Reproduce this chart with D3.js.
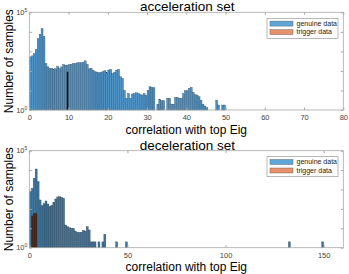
<!DOCTYPE html>
<html>
<head>
<meta charset="utf-8">
<script src="https://cdn.jsdelivr.net/npm/d3@7"></script>
<style>
  body { margin: 0; background: #fff; }
  text { font-family: "Liberation Sans", Arial, sans-serif; }
</style>
</head>
<body>
<svg width="349" height="274"></svg>
<script>
// acceleration set: counts per 0.5-wide bin, starting at 0
const accCounts = [
  525, 590, 780, 1250, 4540, 7560, 14700, 6000, 240, 162,
  134, 134, 120, 134, 175, 134, 162, 214, 198, 198,
  214, 223, 240, 240, 259, 268, 259, 282, 328, 214,
  128, 139, 110, 90, 87, 80, 83, 90, 102, 80,
  110, 120, 74, 87, 110, 120, 50, 41, 10, 4,
  7, 4, 6.6, 7, 7.6, 7, 6.3, 5.8, 7, 5.6,
  10, 15.5, 14.4, 13.8, 1, 2, 3.5, 3, 3, 1,
  4, 4, 2, 2, 4.4, 4.4, 4, 4, 7, 9.7,
  10, 12.8, 14.4, 8, 6, 5.8, 4.8, 3.2, 2, 1.6,
  1.3, 0, 0, 0, 0, 3.2, 1.8, 0, 1.8, 1.8
];
const accTriggerBins = [9.5];
const accTriggerCounts = [90];

// deceleration set: counts per 1-wide bin, starting at 0
const decCounts = [
  770, 1150, 3800, 11400, 2520, 288, 146, 185, 256, 179,
  136, 153, 218, 323, 410, 425, 395, 352, 14.8, 12.1,
  10.7, 10, 10, 7.2, 6.2, 6.2, 6.2, 7.9, 7.2, 12.1,
  8.2, 2, 2, 2, 1, 2, 1, 2, 4.9
];
const decSparseBins = [44, 49, 132, 149];
const decSparseCounts = [2, 2, 2, 2];
const decTriggerBins = [1, 2, 3];
const decTriggerCounts = [45, 60, 60];

const accTicks = [0, 10, 20, 30, 40, 50, 60, 70, 80];
const decTicks = [0, 50, 100, 150];
const yTicks = [1, 10, 100, 1000, 10000, 100000];
const legendLabels = ["genuine data", "trigger data"];

const svg = d3.select("svg");
const left = 29.3, right = 343.3;

function panel(cfg) {
  const g = svg.append("g");
  const x = d3.scaleLinear().domain(cfg.xDomain).range([left, right]);
  const y = d3.scaleLog().domain([1, 1e5]).range([cfg.bottom, cfg.top]);

  const bars = cfg.bins.filter(d => d.count > 1);
  g.selectAll("rect.gen")
    .data(bars)
    .enter()
    .append("rect")
    .attr("x", d => x(d.x0))
    .attr("width", d => x(d.x1) - x(d.x0))
    .attr("y", d => y(d.count))
    .attr("height", d => y(1) - y(d.count))
    .attr("fill", cfg.barFill)
    .attr("stroke", cfg.barStroke)
    .attr("stroke-width", 0.35);

  g.selectAll("rect.trig")
    .data(cfg.trigger)
    .enter()
    .append("rect")
    .attr("x", d => x(d.x0))
    .attr("width", d => x(d.x1) - x(d.x0))
    .attr("y", d => y(d.count))
    .attr("height", d => y(1) - y(d.count))
    .attr("fill", cfg.trigFill);

  // box
  g.append("rect")
    .attr("x", left).attr("y", cfg.top)
    .attr("width", right - left).attr("height", cfg.bottom - cfg.top)
    .attr("fill", "none").attr("stroke", "#a8a8a8").attr("stroke-width", 0.8);

  const tickStyle = sel => {
    sel.select(".domain").remove();
    sel.selectAll("line").attr("stroke", "#a8a8a8");
    sel.selectAll("text").attr("fill", "#444").attr("font-size", 7.5)
      .attr("font-family", "Liberation Sans, Arial, sans-serif");
  };

  g.append("g")
    .attr("transform", `translate(0,${cfg.bottom})`)
    .call(d3.axisBottom(x).tickValues(cfg.ticks).tickSizeInner(-2.5).tickSizeOuter(0).tickPadding(5))
    .call(tickStyle);
  g.append("g")
    .attr("transform", `translate(0,${cfg.top})`)
    .call(d3.axisTop(x).tickValues(cfg.ticks).tickSizeInner(-2.5).tickSizeOuter(0).tickFormat(""))
    .call(tickStyle);
  g.append("g")
    .attr("transform", `translate(${left},0)`)
    .call(d3.axisLeft(y).tickValues(yTicks).tickSizeInner(-2.5).tickSizeOuter(0).tickFormat(""))
    .call(tickStyle);
  g.append("g")
    .attr("transform", `translate(${right},0)`)
    .call(d3.axisRight(y).tickValues(yTicks).tickSizeInner(-2.5).tickSizeOuter(0).tickFormat(""))
    .call(tickStyle);

  // 10^0 and 10^5 labels
  [[1, "0"], [1e5, "5"]].forEach(([v, e]) => {
    const t = g.append("text")
      .attr("x", left - 2).attr("y", y(v) + 2.5)
      .attr("text-anchor", "end").attr("font-size", 7.5).attr("fill", "#444");
    t.append("tspan").text("10");
    t.append("tspan").attr("font-size", 5).attr("dy", -3).text(e);
  });

  g.append("text")
    .attr("x", (left + right) / 2 + 1).attr("y", cfg.top - 1)
    .attr("text-anchor", "middle").attr("font-size", 13.5).attr("fill", "#000")
    .text(cfg.title);

  g.append("text")
    .attr("x", (left + right) / 2).attr("y", cfg.bottom + 23.5)
    .attr("text-anchor", "middle").attr("font-size", 12).attr("fill", "#000")
    .text("correlation with top Eig");

  g.append("text")
    .attr("transform", `translate(13,${(cfg.top + cfg.bottom) / 2}) rotate(-90)`)
    .attr("text-anchor", "middle").attr("font-size", 12).attr("fill", "#000")
    .text("Number of samples");

  // legend
  const lg = g.append("g").attr("transform", `translate(267,${cfg.top + 6})`);
  lg.append("rect").attr("width", 71).attr("height", 20)
    .attr("fill", "#fff").attr("stroke", "#8a8a8a").attr("stroke-width", 0.6);
  const sw = ["#5ea5d8", "#e8906a"];
  legendLabels.forEach((lab, i) => {
    lg.append("rect").attr("x", 3).attr("y", 2.8 + i * 8.5)
      .attr("width", 23).attr("height", 5)
      .attr("fill", sw[i]).attr("stroke", "#555").attr("stroke-width", 0.4);
    lg.append("text").attr("x", 29.5).attr("y", 7.6 + i * 8.5)
      .attr("font-size", 7).attr("fill", "#222").text(lab);
  });
}

const accBins = accCounts.map((c, i) => ({ x0: i * 0.5, x1: i * 0.5 + 0.5, count: c }));
const accTrig = accTriggerBins.map((b, i) => ({ x0: b + 0.05, x1: b + 0.45, count: accTriggerCounts[i] }));
const decBins = decCounts.map((c, i) => ({ x0: i, x1: i + 1, count: c }))
  .concat(decSparseBins.map((b, i) => ({ x0: b, x1: b + 1, count: decSparseCounts[i] })));
const decTrig = decTriggerBins.map((b, i) => ({ x0: b, x1: b + 1, count: decTriggerCounts[i] }));

panel({
  title: "acceleration set", xDomain: [0, 80], ticks: accTicks,
  top: 12.3, bottom: 110, bins: accBins, trigger: accTrig,
  barFill: "#4f93c6", barStroke: "#2d4c66", trigFill: "#111"
});
panel({
  title: "deceleration set", xDomain: [0, 160], ticks: decTicks,
  top: 150.7, bottom: 247.7, bins: decBins, trigger: decTrig,
  barFill: "#3f7399", barStroke: "#2a4255", trigFill: "#42261a"
});
</script>
</body>
</html>
